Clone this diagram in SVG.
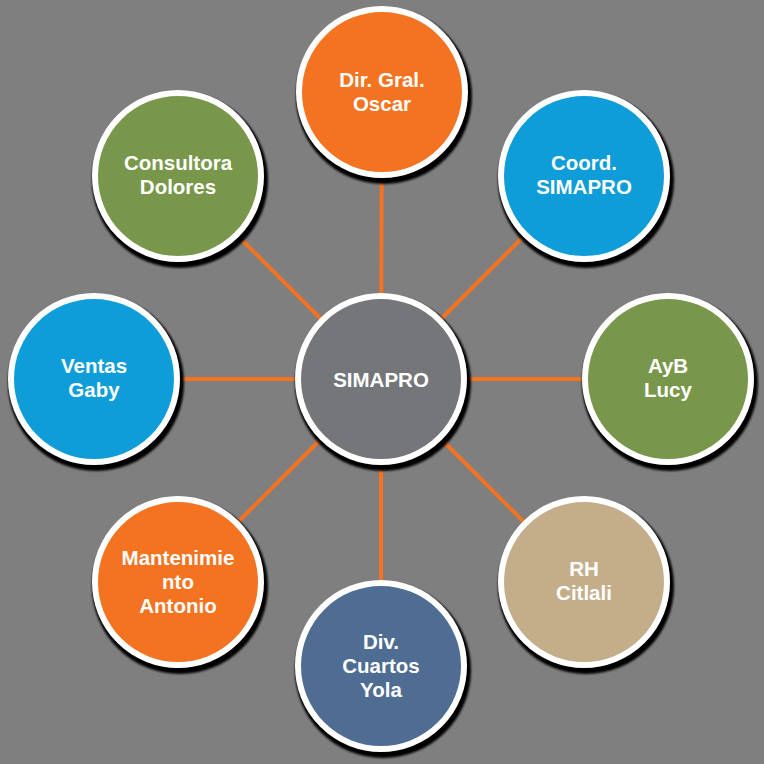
<svg xmlns="http://www.w3.org/2000/svg" width="764" height="764" viewBox="0 0 764 764">
<defs>
<filter id="sh" x="-20%" y="-20%" width="140%" height="140%"><feGaussianBlur stdDeviation="1.2"/></filter>
<style>
.lk{stroke:#F47321;stroke-width:4;fill:none}
.shd{fill:#000;filter:url(#sh)}
.c{stroke:#fff;stroke-width:6}
.t{font-family:"Liberation Sans",Arial,sans-serif;font-weight:bold;font-size:20.5px;fill:#fff;text-anchor:middle}
</style>
</defs>
<rect width="764" height="764" fill="#7F7F7F"/>
<g id="connectors">
<line class="lk" x1="381" y1="379" x2="382" y2="92"/>
<line class="lk" x1="381" y1="379" x2="584" y2="176"/>
<line class="lk" x1="381" y1="379" x2="668" y2="379"/>
<line class="lk" x1="381" y1="379" x2="584" y2="582"/>
<line class="lk" x1="381" y1="379" x2="381" y2="666"/>
<line class="lk" x1="381" y1="379" x2="178" y2="582"/>
<line class="lk" x1="381" y1="379" x2="94" y2="379"/>
<line class="lk" x1="381" y1="379" x2="178" y2="176"/>
</g>
<g id="center">
<circle class="shd" cx="383" cy="383" r="88"/>
<circle class="c" cx="381" cy="379" r="83" fill="#75767A"/>
<text class="t" x="381" y="387">SIMAPRO</text>
</g>
<g id="dir">
<circle class="shd" cx="384" cy="96" r="88"/>
<circle class="c" cx="382" cy="92" r="83" fill="#F47321"/>
<text class="t" x="382" y="87">Dir. Gral.</text>
<text class="t" x="382" y="111">Oscar</text>
</g>
<g id="coord">
<circle class="shd" cx="586" cy="180" r="88"/>
<circle class="c" cx="584" cy="176" r="83" fill="#0E9DD8"/>
<text class="t" x="584" y="170">Coord.</text>
<text class="t" x="584" y="194">SIMAPRO</text>
</g>
<g id="ayb">
<circle class="shd" cx="670" cy="383" r="88"/>
<circle class="c" cx="668" cy="379" r="83" fill="#78974A"/>
<text class="t" x="668" y="373">AyB</text>
<text class="t" x="668" y="397">Lucy</text>
</g>
<g id="rh">
<circle class="shd" cx="586" cy="586" r="88"/>
<circle class="c" cx="584" cy="582" r="83" fill="#C4AE8A"/>
<text class="t" x="584" y="576">RH</text>
<text class="t" x="584" y="600">Citlali</text>
</g>
<g id="div">
<circle class="shd" cx="383" cy="670" r="88"/>
<circle class="c" cx="381" cy="666" r="83" fill="#4F6C93"/>
<text class="t" x="381" y="649">Div.</text>
<text class="t" x="381" y="673">Cuartos</text>
<text class="t" x="381" y="697">Yola</text>
</g>
<g id="mant">
<circle class="shd" cx="180" cy="586" r="88"/>
<circle class="c" cx="178" cy="582" r="83" fill="#F47321"/>
<text class="t" x="178" y="565">Mantenimie</text>
<text class="t" x="178" y="589">nto</text>
<text class="t" x="178" y="613">Antonio</text>
</g>
<g id="ventas">
<circle class="shd" cx="96" cy="383" r="88"/>
<circle class="c" cx="94" cy="379" r="83" fill="#0E9DD8"/>
<text class="t" x="94" y="373">Ventas</text>
<text class="t" x="94" y="397">Gaby</text>
</g>
<g id="consultora">
<circle class="shd" cx="180" cy="180" r="88"/>
<circle class="c" cx="178" cy="176" r="83" fill="#78974A"/>
<text class="t" x="178" y="170">Consultora</text>
<text class="t" x="178" y="194">Dolores</text>
</g>
</svg>
